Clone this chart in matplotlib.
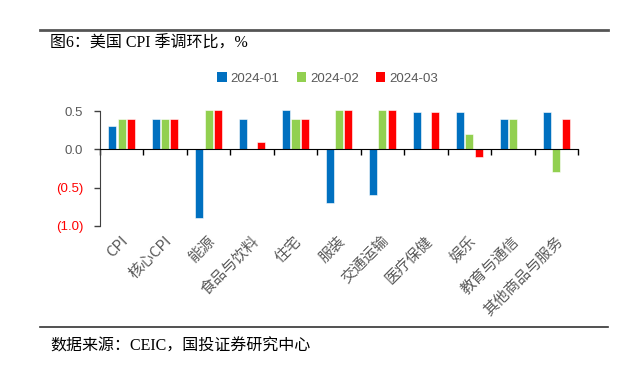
import numpy as np
import matplotlib
matplotlib.use('Agg')
import matplotlib.pyplot as plt
from matplotlib.lines import Line2D
from matplotlib.patches import Patch
import matplotlib.transforms as mtrans

plt.rcParams['font.family'] = ['Noto Sans CJK SC', 'DejaVu Sans']

cats = ['CPI', '核心CPI', '能源', '食品与饮料', '住宅', '服装', '交通运输',
        '医疗保健', '娱乐', '教育与通信', '其他商品与服务']
series = ['2024-01', '2024-02', '2024-03']
v_jan = [0.3, 0.4, -0.9, 0.4, 0.51, -0.7, -0.6, 0.49, 0.49, 0.4, 0.49]
v_feb = [0.4, 0.4, 0.51, 0.0, 0.4, 0.51, 0.51, 0.0, 0.2, 0.4, -0.3]
v_mar = [0.4, 0.4, 0.51, 0.1, 0.4, 0.51, 0.51, 0.49, -0.1, 0.0, 0.4]
colors = ['#0070C0', '#92D050', '#FF0000']
yticks = [0.5, 0.0, -0.5, -1.0]
ylabels = ['0.5', '0.0', '(0.5)', '(1.0)']

fig = plt.figure(figsize=(6.36, 3.65), dpi=100)
ax = fig.add_axes([0.157, 0.3816, 0.752, 0.318])

x = np.arange(len(cats))
w = 0.185
for k, (vals, c) in enumerate(zip([v_jan, v_feb, v_mar], colors)):
    ax.bar(x + (k - 1) * 0.215, vals, w, color=c, edgecolor='white',
           linewidth=0.4, label=series[k], zorder=2)

ax.set_xlim(-0.5, len(cats) - 0.5)
ax.set_ylim(-1.0, 0.52)
for s in ['top', 'right']:
    ax.spines[s].set_visible(False)
ax.spines['left'].set_bounds(-1.0, 0.5)
ax.spines['left'].set_color('#404040')
ax.spines['bottom'].set_position(('data', 0))
ax.spines['bottom'].set_color('black')
ax.spines['bottom'].set_zorder(3)
ax.set_xticks(np.arange(-0.5, len(cats), 1.0))
ax.set_xticklabels([])
ax.tick_params(axis='x', direction='out', length=4, width=1, color='black')
ax.set_yticks(yticks)
ax.set_yticklabels(ylabels, fontsize=9.5, family=['Liberation Sans'])
ax.tick_params(axis='y', direction='out', length=4, width=1, color='#404040', pad=8)
for t, lab in zip(ax.get_yticklabels(), ylabels):
    t.set_color('#FF0000' if lab.startswith('(') else '#595959')

trans = mtrans.blended_transform_factory(ax.transData, ax.transAxes)
for i, c in enumerate(cats):
    ax.text(i - 0.02, -0.07, c, transform=trans, rotation=45, ha='right', va='top',
            rotation_mode='anchor', fontsize=10.8, color='#595959')

handles = [Patch(facecolor=c, edgecolor='none') for c in colors]
fig.legend(handles, series, loc='center', bbox_to_anchor=(0.515, 0.785), ncol=3,
           frameon=False, handlelength=0.7, handleheight=0.7,
           handletextpad=0.3, columnspacing=1.3, labelcolor='#595959',
           prop={'family': ['Liberation Sans'], 'size': 9.5})

fig.add_artist(Line2D([0.063, 0.956], [0.918, 0.918], color='#555555', linewidth=2))
fig.add_artist(Line2D([0.063, 0.956], [0.104, 0.104], color='#333333', linewidth=1.2))
fig.text(0.079, 0.879, '图6：美国 CPI 季调环比，%', fontsize=11.5, va='center', color='black',
         family=['Liberation Serif', 'Noto Sans CJK SC'])
fig.text(0.079, 0.052, '数据来源：CEIC，国投证券研究中心', fontsize=11.5, va='center', color='black',
         family=['Liberation Serif', 'Noto Sans CJK SC'])

fig.savefig('out.png', dpi=100)
